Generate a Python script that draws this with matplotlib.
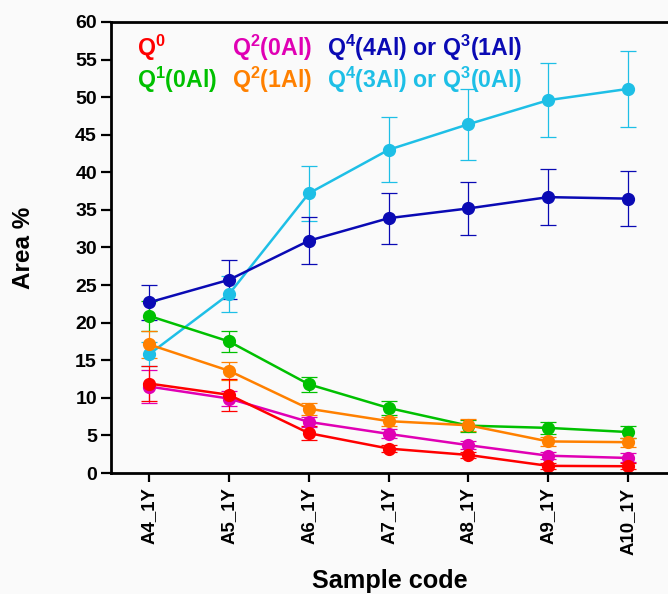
import matplotlib.pyplot as plt
import numpy as np

plt.rcParams['font.family'] = ['Liberation Sans', 'DejaVu Sans']
plt.rcParams['font.weight'] = 'bold'
plt.rcParams['mathtext.fontset'] = 'custom'
plt.rcParams['mathtext.rm'] = 'Liberation Sans:bold'
plt.rcParams['mathtext.bf'] = 'Liberation Sans:bold'
plt.rcParams['mathtext.default'] = 'bf'

samples = ['A4_1Y', 'A5_1Y', 'A6_1Y', 'A7_1Y', 'A8_1Y', 'A9_1Y', 'A10_1Y']

q0 = [11.9, 10.4, 5.3, 3.25, 2.4, 0.95, 0.9]
q0_err = [2.3, 2.1, 0.9, 0.5, 0.4, 0.4, 0.4]
q1 = [20.9, 17.5, 11.8, 8.65, 6.3, 6.0, 5.45]
q1_err = [2.0, 1.4, 1.0, 0.9, 0.8, 0.8, 0.8]
q2_0al = [11.5, 9.9, 6.8, 5.2, 3.7, 2.3, 2.0]
q2_0al_err = [2.2, 1.0, 0.7, 0.6, 0.5, 0.5, 0.6]
q2_1al = [17.1, 13.6, 8.55, 6.9, 6.35, 4.2, 4.1]
q2_1al_err = [1.8, 1.2, 0.8, 0.6, 0.8, 0.6, 0.6]
q4_4al = [22.7, 25.7, 30.9, 33.9, 35.2, 36.7, 36.5]
q4_4al_err = [2.3, 2.6, 3.1, 3.4, 3.5, 3.7, 3.7]
q4_3al = [15.8, 23.8, 37.2, 43.0, 46.4, 49.6, 51.1]
q4_3al_err = [1.6, 2.4, 3.7, 4.3, 4.7, 4.9, 5.1]

series = [
    (q4_3al, q4_3al_err, '#1ebfe6', r'Q$^{4}$(3Al) or Q$^{3}$(0Al)'),
    (q4_4al, q4_4al_err, '#0a0ab4', r'Q$^{4}$(4Al) or Q$^{3}$(1Al)'),
    (q1, q1_err, '#00c000', r'Q$^{1}$(0Al)'),
    (q2_1al, q2_1al_err, '#ff8000', r'Q$^{2}$(1Al)'),
    (q2_0al, q2_0al_err, '#e000b4', r'Q$^{2}$(0Al)'),
    (q0, q0_err, '#ff0000', r'Q$^{0}$'),
]

fig = plt.figure(figsize=(6.68, 5.94), dpi=100, facecolor='#fafafa')
ax = fig.add_axes([0.166, 0.2037, 0.834, 0.7593])
ax.set_facecolor('#fafafa')

x = np.arange(len(samples))
for vals, err, col, lab in series:
    ax.errorbar(x, vals, yerr=err, color=col, marker='o', markersize=8.5,
                linewidth=1.8, elinewidth=0.9, capsize=6, capthick=0.9)

# legend written as coloured text
leg = [
    (0.047, 0.925, r'Q$^{0}$', '#ff0000'),
    (0.217, 0.925, r'Q$^{2}$(0Al)', '#e000b4'),
    (0.388, 0.925, r'Q$^{4}$(4Al) or Q$^{3}$(1Al)', '#0a0ab4'),
    (0.047, 0.854, r'Q$^{1}$(0Al)', '#00c000'),
    (0.217, 0.854, r'Q$^{2}$(1Al)', '#ff8000'),
    (0.388, 0.854, r'Q$^{4}$(3Al) or Q$^{3}$(0Al)', '#1ebfe6'),
]
for tx, ty, s, c in leg:
    ax.text(tx, ty, s, color=c, fontsize=16.7, fontweight='bold',
            transform=ax.transAxes, va='baseline', ha='left')

ax.set_xlim(-0.48, 6.5)
ax.set_ylim(0, 60)
ax.set_yticks(range(0, 61, 5))
ax.set_xticks(x)
ax.set_xticklabels(samples, rotation=90, fontsize=13.4, fontweight='bold')
ax.tick_params(axis='y', labelsize=14, width=1.6, length=7, pad=3)
ax.tick_params(axis='x', width=1.6, length=6.5, pad=4)
for lbl in ax.get_yticklabels():
    lbl.set_fontweight('bold')

ax.spines['right'].set_visible(False)
for s in ['left', 'bottom', 'top']:
    ax.spines[s].set_linewidth(2)

ax.set_ylabel('Area %', fontsize=17.5, fontweight='bold')
ax.yaxis.set_label_coords(-0.137, 0.5)
ax.set_xlabel('Sample code', fontsize=18.2, fontweight='bold')
ax.xaxis.set_label_coords(0.5, -0.213)

fig.savefig('out.png', dpi=100, facecolor=fig.get_facecolor())
